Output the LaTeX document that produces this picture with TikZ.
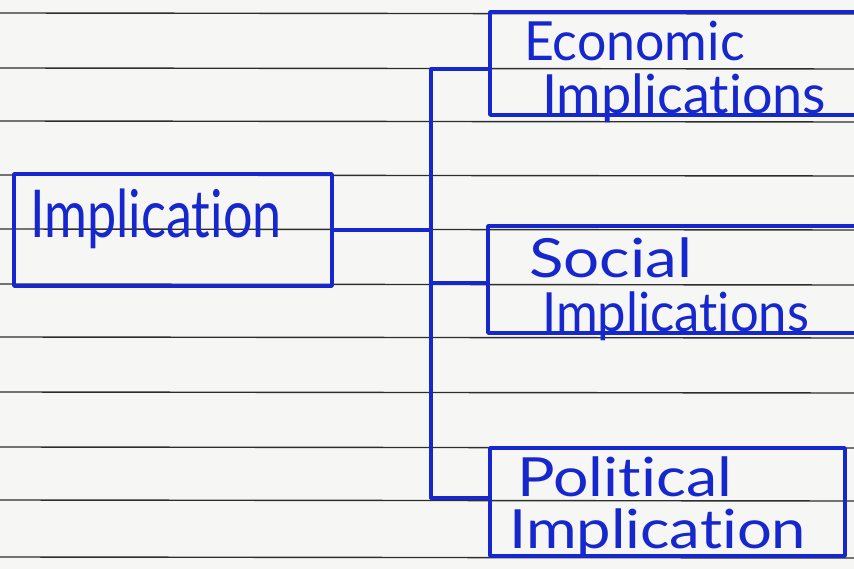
\documentclass[tikz,border=0pt]{standalone}
\usepackage{fontspec}
\setmainfont{Lato}[Ligatures=NoCommon]
\definecolor{pen}{RGB}{22,40,205}
\definecolor{paper}{RGB}{246,246,244}
\definecolor{ruleline}{RGB}{45,45,45}
\newcommand{\hw}[2]{\scalebox{#1}[1]{#2}}
\begin{document}
\begin{tikzpicture}[x=1pt,y=-1pt,
  box/.style={draw=pen, line width=3.6pt, inner sep=0pt, line join=round},
  conn/.style={draw=pen, line width=3.4pt, line cap=round},
  bigtxt/.style={text=pen, inner sep=0pt, anchor=base west, font=\fontsize{66}{66}\selectfont},
  smalltxt/.style={text=pen, inner sep=0pt, anchor=base west, font=\fontsize{54}{54}\selectfont},
  ruled/.style={draw=ruleline, line width=1.4pt}]
\fill[paper] (0,0) rectangle (854,569);
\useasboundingbox (0,0) rectangle (854,569);
\begin{scope}
\clip (0,0) rectangle (854,569);
% ruled paper
\foreach \yy in {13,68,121,175,229,284,337,392,447,500,557}
  \draw[ruled] (0,\yy) -- (854,\yy+1);
% boxes
\node[box, minimum width=318pt, minimum height=112pt] (main) at (173,230) {};
\node[box, minimum width=380pt, minimum height=103pt] (econ) at (680,63.5) {};
\node[box, minimum width=382pt, minimum height=107pt] (soc) at (679,279.5) {};
\node[box, minimum width=355pt, minimum height=108pt] (pol) at (667.5,502) {};
% texts
\node[bigtxt] (maint) at (30,238) {\hw{0.79}{Implication}};
\node[smalltxt] (econa) at (524,61) {\hw{0.96}{Economic}};
\node[smalltxt] (econb) at (542,114) {\hw{1.0}{Implications}};
\node[smalltxt] (soca) at (529,278) {\hw{1.18}{Social}};
\node[smalltxt] (socb) at (542,331) {\hw{0.94}{Implications}};
\node[smalltxt] (pola) at (517,496) {\hw{1.16}{Political}};
\node[smalltxt] (polb) at (509,548) {\hw{1.14}{Implication}};
% connectors
\coordinate (jtop) at (431,69);
\coordinate (jmid) at (431,230);
\coordinate (jsoc) at (431,283);
\coordinate (jbot) at (431,498);
\draw[conn] (main.east) -- (jmid);
\draw[conn] (jtop) -- (jbot);
\draw[conn] (jtop) -- (jtop -| econ.west);
\draw[conn] (jsoc) -- (jsoc -| soc.west);
\draw[conn] (jbot) -- (jbot -| pol.west);
\end{scope}
\end{tikzpicture}
\end{document}
